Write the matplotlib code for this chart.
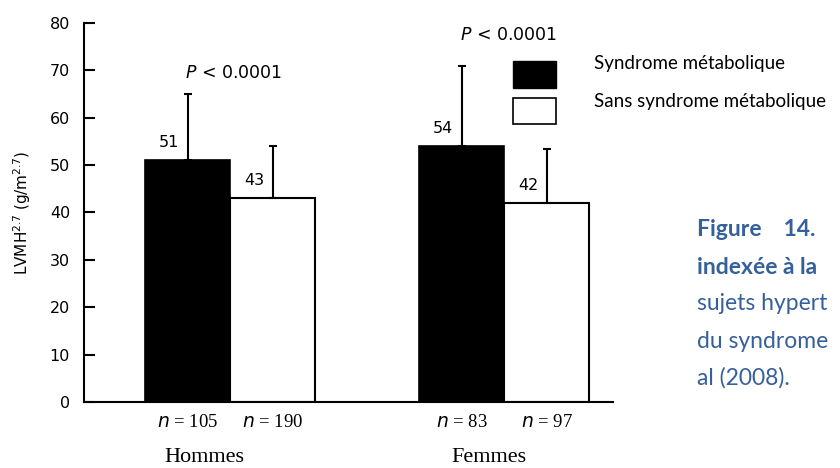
import numpy as np
import matplotlib.pyplot as plt

groups = ['Hommes', 'Femmes']
series = ['Syndrome métabolique', 'Sans syndrome métabolique']
means_ms = [51, 54]
means_no = [43, 42]
sd_ms = [14, 17]
sd_no = [11, 11.3]
n_ms = [105, 83]
n_no = [190, 97]
p_labels = ['$P$ < 0.0001', '$P$ < 0.0001']

fig = plt.figure(figsize=(8.4, 4.68), dpi=100)
ax = fig.add_axes([0.1, 0.141, 0.6298, 0.81])

centers = np.array([1.72, 4.94])
w = 1.0
x_ms = centers - w / 2
x_no = centers + w / 2

ax.bar(x_ms, means_ms, w, color='black', edgecolor='black', lw=1.2)
ax.bar(x_no, means_no, w, color='white', edgecolor='black', lw=1.5)
ax.errorbar(x_ms, means_ms, yerr=[np.zeros(2), sd_ms], fmt='none',
            ecolor='black', elinewidth=1.5, capsize=3, capthick=1.5)
ax.errorbar(x_no, means_no, yerr=[np.zeros(2), sd_no], fmt='none',
            ecolor='black', elinewidth=1.5, capsize=3, capthick=1.5)

for xs, ms in [(x_ms, means_ms), (x_no, means_no)]:
    for x, m in zip(xs, ms):
        ax.text(x - 0.22, m + 2.2, str(m), ha='center', va='bottom',
                fontsize=11.5, family='DejaVu Sans')

# P values
ax.text(x_ms[0] + 0.54, 67.5, p_labels[0], ha='center', va='bottom', fontsize=12.5,
        family='DejaVu Sans')
ax.text(x_ms[1] + 0.55, 75.5, p_labels[1], ha='center', va='bottom', fontsize=12.5,
        family='DejaVu Sans')

# n labels and group names
for xs, ns in [(x_ms, n_ms), (x_no, n_no)]:
    for x, n in zip(xs, ns):
        ax.text(x, -2.6, '$n$ = %d' % n, ha='center', va='top', fontsize=13.5,
                family='Liberation Serif')
for c, g, off in zip(centers, groups, [-0.3, -0.18]):
    ax.text(c + off, -9.6, g, ha='center', va='top', fontsize=16,
            family='Liberation Serif')

ax.set_xlim(0, 6.22)
ax.set_ylim(0, 80)
ax.set_yticks(np.arange(0, 81, 10))
ax.set_xticks([])
ax.tick_params(axis='y', direction='in', length=8, width=1.5, labelsize=11.5, pad=10)
for s in ['top', 'right']:
    ax.spines[s].set_visible(False)
ax.spines['left'].set_linewidth(1.5)
ax.spines['bottom'].set_linewidth(1.5)
ax.set_ylabel('LVMH$^{2.7}$ (g/m$^{2.7}$)', fontsize=11, labelpad=12,
              family='DejaVu Sans')

# legend drawn by hand as in the figure
fig.patches.append(plt.Rectangle((513 / 840, 1 - 88 / 468), 43 / 840, 27 / 468,
                                 transform=fig.transFigure, fc='black', ec='black'))
fig.patches.append(plt.Rectangle((513 / 840, 1 - 124 / 468), 43 / 840, 26 / 468,
                                 transform=fig.transFigure, fc='white', ec='black', lw=1.2))
fig.text(594 / 840, 1 - 63 / 468, series[0], fontsize=13.5, family='Lato', va='center')
fig.text(594 / 840, 1 - 101 / 468, series[1], fontsize=13.5, family='Lato', va='center')

# caption fragment at right
blue = '#36609A'
cap = [('Figure    14.', 'bold'), ('indexée à la', 'bold'), ('sujets hypert', 'normal'),
       ('du syndrome', 'normal'), ('al (2008).', 'normal')]
for i, (t, fw) in enumerate(cap):
    fig.text(697 / 840, 1 - (230 + i * 37) / 468, t, fontsize=16.5, family='Lato',
             weight=fw, color=blue, va='center')

fig.savefig('out.png', dpi=100)
